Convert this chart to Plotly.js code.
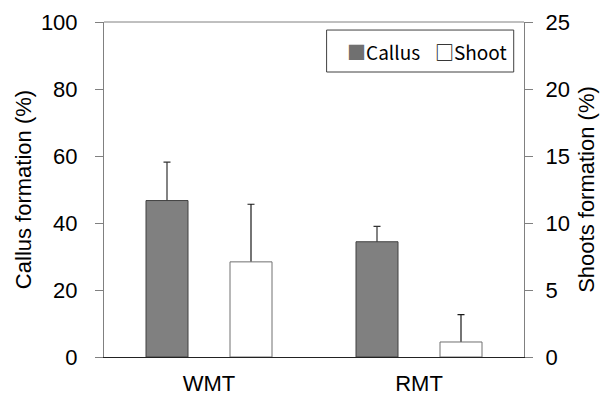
<!DOCTYPE html>
<html>
<head>
<meta charset="utf-8">
<script src="https://cdn.plot.ly/plotly-3.0.1.min.js"></script>
<style>html,body{margin:0;padding:0;background:#fff;}#chart{width:608px;height:399px;}</style>
</head>
<body>
<div id="chart"></div>
<script>
var categories = ["WMT", "RMT"];
var callusValues = [46.7, 34.4];
var callusErrors = [11.5, 4.6];
var shootValues = [7.1, 1.12];
var shootErrors = [4.3, 2.04];
var leftTicks = [0, 20, 40, 60, 80, 100];
var rightTicks = [0, 5, 10, 15, 20, 25];

var FONT = "Liberation Sans, Arial, sans-serif";
var LEGFONT = "Noto Sans CJK KR, Noto Sans, sans-serif";

// error-bar carriers (drawn first, then covered below the bar top by the real bars)
var callusErr = {
  type: "bar", name: "Callus error", x: categories, y: callusValues,
  yaxis: "y", width: 0.2, offset: -0.3, hoverinfo: "skip",
  marker: {color: "rgba(0,0,0,0)", line: {width: 0}},
  error_y: {type: "data", symmetric: false, array: callusErrors,
    arrayminus: callusValues, color: "#333333", thickness: 1.2, width: 3.5}
};
var callus = {
  type: "bar", name: "Callus", x: categories, y: callusValues,
  yaxis: "y", width: 0.2, offset: -0.3,
  marker: {color: "#808080", line: {color: "#404040", width: 1}}
};
var shootErr = {
  type: "bar", name: "Shoot error", x: categories, y: shootValues,
  yaxis: "y2", width: 0.2, offset: 0.1, hoverinfo: "skip",
  marker: {color: "rgba(0,0,0,0)", line: {width: 0}},
  error_y: {type: "data", symmetric: false, array: shootErrors,
    arrayminus: shootValues, color: "#1a1a1a", thickness: 1.2, width: 3.5}
};
var shoot = {
  type: "bar", name: "Shoot", x: categories, y: shootValues,
  yaxis: "y2", width: 0.2, offset: 0.1,
  marker: {color: "#ffffff", line: {color: "#707070", width: 1}}
};

var layout = {
  width: 608, height: 399,
  margin: {l: 104, r: 84, t: 22, b: 42},
  paper_bgcolor: "#fff", plot_bgcolor: "#fff",
  showlegend: false,
  barmode: "overlay",
  font: {family: FONT, size: 22, color: "#000"},
  xaxis: {
    type: "category", range: [-0.5, 1.5],
    showline: true, linecolor: "#222", linewidth: 1,
    ticks: "", showgrid: false, zeroline: false,
    tickfont: {size: 22}, ticklabelstandoff: 7
  },
  yaxis: {
    range: [0, 100], tickvals: leftTicks, ticktext: leftTicks.map(String),
    showline: true, linecolor: "#808080", linewidth: 1,
    ticks: "outside", ticklen: 8, tickcolor: "#808080",
    showgrid: false, zeroline: false,
    tickfont: {size: 22}, ticklabelstandoff: 13,
    title: {text: "Callus formation (%)", font: {size: 22}, standoff: 3}
  },
  yaxis2: {
    range: [0, 25], tickvals: rightTicks, ticktext: rightTicks.map(String),
    overlaying: "y", side: "right",
    showline: true, linecolor: "#808080", linewidth: 1,
    ticks: "outside", ticklen: 8, tickcolor: "#808080",
    showgrid: false, zeroline: false,
    tickfont: {size: 22}, ticklabelstandoff: 8,
    title: {text: "Shoots formation (%)", font: {size: 22}, standoff: 9}
  },
  shapes: [
    {type: "line", xref: "paper", yref: "paper", x0: 0, x1: 1, y0: 1, y1: 1,
     line: {color: "#808080", width: 1}},
    {type: "rect", xref: "paper", yref: "paper", x0: 0.530, x1: 0.9755, y0: 0.8507, y1: 0.976,
     line: {color: "#404040", width: 1}, fillcolor: "#fff"}
  ],
  annotations: [
    {xref: "paper", yref: "paper", x: 0.573, y: 0.9134, xanchor: "left", yanchor: "middle",
     showarrow: false, font: {family: LEGFONT, size: 19, color: "#000"},
     text: "<span style=\"color:#707070\">■</span>Callus"},
    {xref: "paper", yref: "paper", x: 0.7826, y: 0.9134, xanchor: "left", yanchor: "middle",
     showarrow: false, font: {family: LEGFONT, size: 19, color: "#000"},
     text: "□Shoot"}
  ]
};

Plotly.newPlot("chart", [callusErr, callus, shootErr, shoot], layout, {staticPlot: true, displayModeBar: false});
</script>
</body>
</html>
